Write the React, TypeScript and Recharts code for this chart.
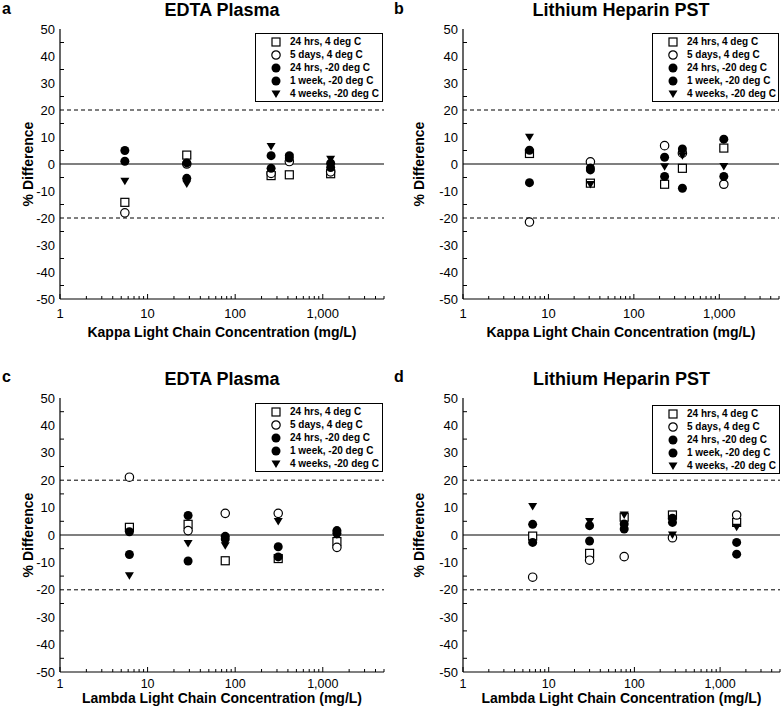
import React from "react";
import { ScatterChart, Scatter, XAxis, YAxis, ReferenceLine, Legend } from "recharts";

// series order follows the legend
const seriesNames = [
  "24 hrs, 4 deg C",
  "5 days, 4 deg C",
  "24 hrs, -20 deg C",
  "1 week, -20 deg C",
  "4 weeks, -20 deg C",
];
const seriesShapes = ["square", "open", "dot", "dot", "tri"];

// panel a: kappa, EDTA plasma
const kappaEdtaConc = [5.5, 28, 257, 415, 1230];
const kappaEdtaPct = [
  [-14.2, 3.3, -4.3, -4.0, -3.6],
  [-18.1, 0.0, -3.5, 0.9, -2.9],
  [5.0, 0.4, 3.1, 3.1, 0.3],
  [1.0, -5.3, -1.6, 2.2, -1.3],
  [-6.4, -7.4, 6.5, 2.5, 1.8],
];

// panel b: kappa, lithium heparin PST
const kappaLhConc = [6.0, 31, 229, 370, 1130];
const kappaLhPct = [
  [3.9, -7.1, -7.5, -1.6, 5.9],
  [-21.5, 0.8, 6.8, 4.0, -7.5],
  [5.1, -1.5, 2.5, 5.6, 9.2],
  [-6.9, -2.2, -4.6, -9.0, -4.6],
  [9.9, -7.6, -1.0, 3.1, -0.9],
];

// panel c: lambda, EDTA plasma
const lambdaEdtaConc = [6.2, 29, 77, 310, 1450];
const lambdaEdtaPct = [
  [2.8, 3.9, -9.4, -8.6, -2.4],
  [21.1, 1.6, 7.9, 7.9, -4.5],
  [1.2, 7.1, -0.5, -4.3, 1.6],
  [-7.1, -9.5, -1.5, -8.0, 0.6],
  [-14.9, -3.1, -3.9, 4.9, 0.0],
];

// panel d: lambda, lithium heparin PST
const lambdaLhConc = [6.5, 30, 76, 278, 1560];
const lambdaLhPct = [
  [-0.4, -6.7, 6.5, 7.3, 4.6],
  [-15.4, -9.2, -7.9, -1.0, 7.3],
  [3.9, 3.4, 4.0, 6.1, -2.7],
  [-2.7, -2.2, 2.2, 4.6, -7.0],
  [10.4, 4.9, 7.3, 0.0, 2.8],
];

const xTicks = [
  1, 2, 3, 4, 5, 6, 7, 8, 9,
  10, 20, 30, 40, 50, 60, 70, 80, 90,
  100, 200, 300, 400, 500, 600, 700, 800, 900,
  1000, 2000, 3000, 4000, 5000,
];
const xMajor = [1, 10, 100, 1000];
const xMajorLabels = ["1", "10", "100", "1,000"];
const yTicks = [-50, -45, -40, -35, -30, -25, -20, -15, -10, -5, 0, 5, 10, 15, 20, 25, 30, 35, 40, 45, 50];

const FONT = "'Liberation Sans', Arial, sans-serif";
const CW = 392;
const CH = 357;

const panels = [
  {
    id: "a", title: "EDTA Plasma", xLabel: "Kappa Light Chain Concentration (mg/L)",
    conc: kappaEdtaConc, pct: kappaEdtaPct,
    left: 0, top: 0, yAxisW: 60, mTop: 29, mRight: 8, xAxisH: 45, mBottom: 13,
    tickBase: 19, tickFont: 13, xLabelOff: 7, yLabelOff: 28, legendX: 255, legendY: 33, legendW: 128,
    letterTop: 0.5, titleTop: 0.75,
  },
  {
    id: "b", title: "Lithium Heparin PST", xLabel: "Kappa Light Chain Concentration (mg/L)",
    conc: kappaLhConc, pct: kappaLhPct,
    left: 392, top: 0, yAxisW: 71, mTop: 29, mRight: 5, xAxisH: 45, mBottom: 13,
    tickBase: 19, tickFont: 13, xLabelOff: 7, yLabelOff: 27, legendX: 260, legendY: 33, legendW: 127,
    letterTop: 0.5, titleTop: 0.75,
  },
  {
    id: "c", title: "EDTA Plasma", xLabel: "Lambda Light Chain Concentration (mg/L)",
    conc: lambdaEdtaConc, pct: lambdaEdtaPct,
    left: 0, top: 357, yAxisW: 60, mTop: 41, mRight: 8, xAxisH: 35, mBottom: 7,
    tickBase: 15.5, tickFont: 12.5, xLabelOff: 4, yLabelOff: 28, legendX: 255, legendY: 46, legendW: 128,
    letterTop: 368.5, titleTop: 369.5,
  },
  {
    id: "d", title: "Lithium Heparin PST", xLabel: "Lambda Light Chain Concentration (mg/L)",
    conc: lambdaLhConc, pct: lambdaLhPct,
    left: 392, top: 357, yAxisW: 71, mTop: 41, mRight: 4, xAxisH: 35, mBottom: 7,
    tickBase: 15.5, tickFont: 12.5, xLabelOff: 4, yLabelOff: 27, legendX: 260, legendY: 48, legendW: 128,
    letterTop: 368.5, titleTop: 369.5,
  },
];

function Marker({ kind, cx, cy }: { kind: string; cx: number; cy: number }) {
  if (cx == null || cy == null) return null;
  if (kind === "square")
    return <rect x={cx - 4} y={cy - 4} width={8} height={8} fill="#fff" stroke="#000" strokeWidth={1.2} />;
  if (kind === "open") return <circle cx={cx} cy={cy} r={4.2} fill="#fff" stroke="#000" strokeWidth={1.2} />;
  if (kind === "tri")
    return (
      <polygon
        points={`${cx - 4.5},${cy - 3.5} ${cx + 4.5},${cy - 3.5} ${cx},${cy + 4}`}
        fill="#000"
      />
    );
  return <circle cx={cx} cy={cy} r={4.5} fill="#000" />;
}

function LegendBox({ width }: { width: number }) {
  return (
    <div
      style={{
        width,
        height: 69,
        boxSizing: "border-box",
        border: "1px solid #000",
        background: "#fff",
        paddingTop: 1,
        fontFamily: FONT,
        fontWeight: "bold",
        fontSize: 10,
      }}
    >
      {seriesNames.map((name, i) => (
        <div key={name} style={{ position: "relative", height: 13, lineHeight: "13px" }}>
          <svg width={12} height={12} style={{ position: "absolute", left: 14, top: 1 }}>
            <Marker kind={seriesShapes[i]} cx={6} cy={6} />
          </svg>
          <span style={{ position: "absolute", left: 34, top: 0, whiteSpace: "nowrap" }}>{name}</span>
        </div>
      ))}
    </div>
  );
}

function makeXTick(side: "bottom" | "top", base: number, font: number) {
  return (props: any) => {
    const { x, y, payload } = props;
    const v = payload.value;
    const mi = xMajor.indexOf(v);
    const len = mi >= 0 ? 5 : 3;
    const dir = side === "bottom" ? -1 : 1;
    return (
      <g>
        <line x1={x} x2={x} y1={y} y2={y + dir * len} stroke="#000" strokeWidth={1} />
        {side === "bottom" && mi >= 0 && (
          <text x={x} y={y + base} textAnchor="middle" fontSize={font} fill="#000">
            {xMajorLabels[mi]}
          </text>
        )}
      </g>
    );
  };
}

function makeYTick(side: "left" | "right") {
  return (props: any) => {
    const { x, y, payload } = props;
    const v = payload.value;
    const isLabel = v % 10 === 0;
    const dir = side === "left" ? 1 : -1;
    return (
      <g>
        {!isLabel && <line x1={x} x2={x + dir * 4} y1={y} y2={y} stroke="#000" strokeWidth={1} />}
        {side === "left" && isLabel && (
          <text x={x - 5} y={y} dy="0.36em" textAnchor="end" fontSize={13} fill="#000">
            {v}
          </text>
        )}
      </g>
    );
  };
}

function Panel({ p }: { p: (typeof panels)[number] }) {
  const plotLeft = p.left + p.yAxisW;
  const plotRight = p.left + CW - p.mRight;
  return (
    <>
      <div
        style={{
          position: "absolute",
          left: p.left + 2,
          top: p.letterTop,
          fontSize: 16,
          fontWeight: "bold",
          lineHeight: "16px",
        }}
      >
        {p.id}
      </div>
      <div
        style={{
          position: "absolute",
          left: plotLeft,
          width: plotRight - plotLeft,
          top: p.titleTop,
          textAlign: "center",
          fontSize: 18,
          fontWeight: "bold",
          lineHeight: "18px",
        }}
      >
        {p.title}
      </div>
      <div style={{ position: "absolute", left: p.left, top: p.top }}>
        <ScatterChart
          width={CW}
          height={CH}
          margin={{ top: p.mTop, right: p.mRight, bottom: p.mBottom, left: 0 }}
        >
          <XAxis
            dataKey="x"
            type="number"
            scale="log"
            domain={[1, 5000]}
            allowDataOverflow
            ticks={xTicks}
            interval={0}
            tickSize={0}
            tickMargin={0}
            tickLine={false}
            tick={makeXTick("bottom", p.tickBase, p.tickFont)}
            axisLine={{ stroke: "#000", strokeWidth: 1.2 }}
            height={p.xAxisH}
            label={{
              value: p.xLabel,
              position: "insideBottom",
              offset: p.xLabelOff,
              fill: "#000",
              fontSize: 14,
              fontWeight: "bold",
            }}
          />
          <XAxis
            xAxisId="top"
            orientation="top"
            dataKey="x"
            type="number"
            scale="log"
            domain={[1, 5000]}
            allowDataOverflow
            ticks={xTicks}
            interval={0}
            tickSize={0}
            tickMargin={0}
            tickLine={false}
            tick={makeXTick("top", 0, 0)}
            axisLine={{ stroke: "#000", strokeWidth: 1.2 }}
            height={0}
          />
          <YAxis
            dataKey="y"
            type="number"
            domain={[-50, 50]}
            ticks={yTicks}
            interval={0}
            tickSize={0}
            tickMargin={0}
            tickLine={false}
            tick={makeYTick("left")}
            axisLine={{ stroke: "#000", strokeWidth: 1.2 }}
            width={p.yAxisW}
            label={{
              value: "% Difference",
              angle: -90,
              position: "insideLeft",
              offset: p.yLabelOff,
              fill: "#000",
              fontSize: 14,
              fontWeight: "bold",
              style: { textAnchor: "middle" },
            }}
          />
          <YAxis
            yAxisId="right"
            orientation="right"
            type="number"
            domain={[-50, 50]}
            ticks={yTicks}
            interval={0}
            tickSize={0}
            tickMargin={0}
            tickLine={false}
            tick={makeYTick("right")}
            axisLine={{ stroke: "#000", strokeWidth: 1.2 }}
            width={0}
          />
          <ReferenceLine y={20} stroke="#000" strokeDasharray="4 3" />
          <ReferenceLine y={-20} stroke="#000" strokeDasharray="4 3" />
          <ReferenceLine y={0} stroke="#000" strokeWidth={1.2} />
          {seriesNames.map((name, s) => (
            <Scatter
              key={name}
              name={name}
              data={p.conc.map((x, i) => ({ x, y: p.pct[s][i] }))}
              isAnimationActive={false}
              shape={(sp: any) => <Marker kind={seriesShapes[s]} cx={sp.cx} cy={sp.cy} />}
            />
          ))}
          <Legend
            layout="horizontal"
            verticalAlign="middle"
            align="center"
            wrapperStyle={{ position: "absolute", left: p.legendX, top: p.legendY, width: p.legendW, height: 69 }}
            content={() => <LegendBox width={p.legendW} />}
          />
        </ScatterChart>
      </div>
    </>
  );
}

export default function App() {
  return (
    <div
      style={{
        position: "relative",
        width: 784,
        height: 714,
        background: "#fff",
        fontFamily: FONT,
        color: "#000",
        overflow: "hidden",
      }}
    >
      <style>{"body{margin:0}"}</style>
      {panels.map((p) => (
        <Panel key={p.id} p={p} />
      ))}
    </div>
  );
}
